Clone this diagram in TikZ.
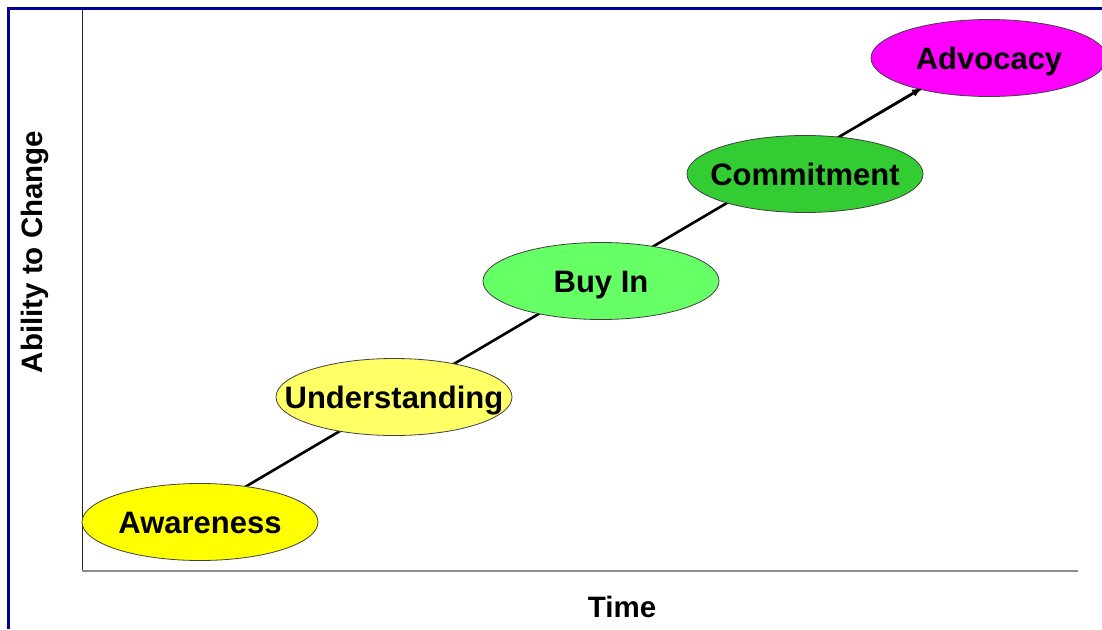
\documentclass[tikz,border=0pt]{standalone}
\usepackage{fontspec}
\setmainfont{Liberation Sans}
\usetikzlibrary{shapes.geometric,arrows.meta}
\definecolor{framenavy}{HTML}{000099}
\definecolor{awareY}{HTML}{FFFF00}
\definecolor{underY}{HTML}{FFFF66}
\definecolor{buyG}{HTML}{66FF66}
\definecolor{commitG}{HTML}{33CC33}
\definecolor{advocM}{HTML}{FF00FF}
\newcommand{\stagetext}[1]{\makebox[0pt]{#1}}
\tikzset{
  stage/.style={ellipse, draw=black!75, line width=0.8pt, minimum width=236pt,
    minimum height=77pt, inner sep=0pt, text height=22.5pt, text depth=0pt,
    font=\fontsize{31}{31}\selectfont\bfseries},
  axislabel/.style={font=\fontsize{29.5}{29.5}\selectfont\bfseries},
}
\begin{document}
\begin{tikzpicture}[x=1pt,y=-1pt]
  \useasboundingbox (0,0) rectangle (1102,629);
  % frame on top and left
  \draw[framenavy, line width=3pt] (8.5,629) -- (8.5,8.5) -- (1102,8.5);
  % axes
  \coordinate (ytop) at (82,10);
  \coordinate (orig) at (82,571);
  \coordinate (xend) at (1078,571);
  \draw[black!85, line width=1pt] (ytop) -- (orig);
  \draw[black!45, line width=2pt] (orig) -- (xend);
  % growth arrow
  \coordinate (start) at (245,487);
  \coordinate (tip) at (922,88);
  \draw[line width=2.6pt] (start) -- (tip);
  % stages
  \node[stage, fill=awareY] (aw) at (200,522) {\stagetext{Awareness}};
  \node[stage, fill=underY] (un) at (394,397) {\stagetext{Understanding}};
  \node[stage, fill=buyG] (bi) at (601,281) {\stagetext{Buy In}};
  \node[stage, fill=commitG] (co) at (805,174) {\stagetext{Commitment}};
  \node[stage, fill=advocM] (ad) at (989,58) {\stagetext{Advocacy}};
  \coordinate (last) at (860,124.5);
  \draw[line width=2.6pt, -{Latex[length=10pt,width=8pt]}] (last) -- (tip);
  % axis titles
  \node[axislabel] (tl) at (622,607) {Time};
  \node[axislabel, rotate=90] (al) at (35,252) {Ability to Change};
\end{tikzpicture}
\end{document}
